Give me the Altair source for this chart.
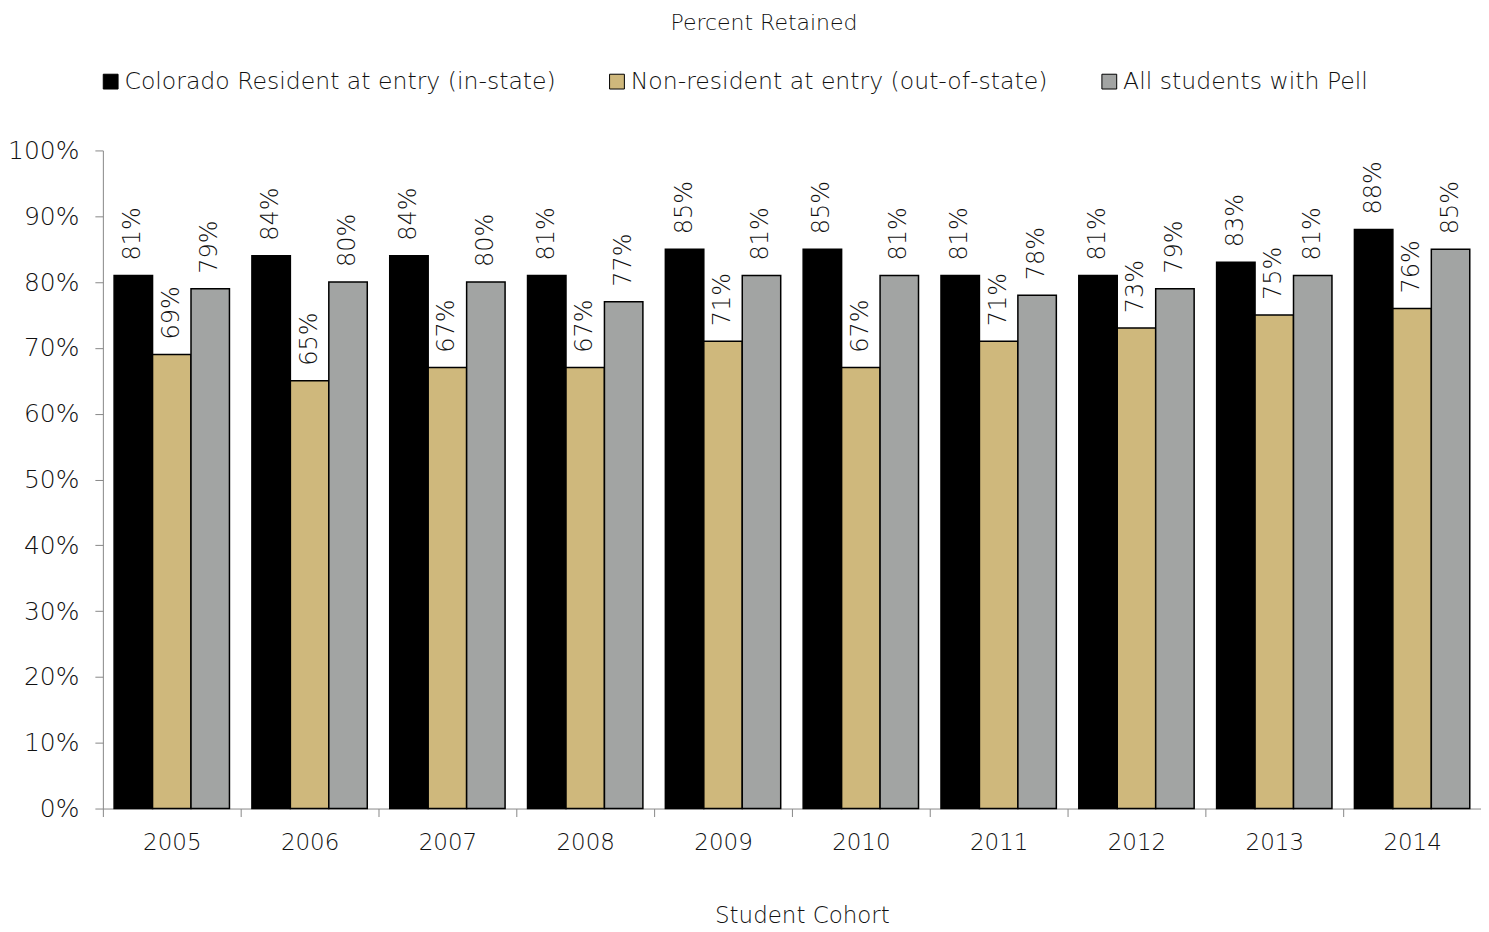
import altair as alt
import pandas as pd

years = ["2005", "2006", "2007", "2008", "2009", "2010", "2011", "2012", "2013", "2014"]
series = ["Colorado Resident at entry (in-state)", "Non-resident at entry (out-of-state)", "All students with Pell"]
in_state = [81, 84, 84, 81, 85, 85, 81, 81, 83, 88]
out_state = [69, 65, 67, 67, 71, 67, 71, 73, 75, 76]
pell = [79, 80, 80, 77, 81, 81, 78, 79, 81, 85]
colors = ["#000000", "#CFB87C", "#A2A4A3"]
chart_title = "Percent Retained"

rows = []
for i, y in enumerate(years):
    for s, vals in zip(series, [in_state, out_state, pell]):
        rows.append({"Cohort": y, "Series": s, "Value": vals[i] / 100.0, "Label": f"{vals[i]}%"})
df = pd.DataFrame(rows)

FONT = "DejaVu Sans"
FW = 200
TXT = "#111111"

x = alt.X("Cohort:N", sort=years,
          scale=alt.Scale(paddingInner=0, paddingOuter=0),
          axis=alt.Axis(title="Student Cohort", labelAngle=0, labelFontSize=23, titleFontSize=23,
                        titleFontWeight=FW, labelFontWeight=FW, titlePadding=50, labelPadding=15,
                        titleX=700, titleAnchor="middle", titleAlign="center",
                        tickBand="extent", tickSize=8, domainColor="#888888", tickColor="#888888",
                        labelColor=TXT, titleColor=TXT, labelFont=FONT, titleFont=FONT))
xo = alt.XOffset("Series:N", sort=series, scale=alt.Scale(paddingInner=0, paddingOuter=0.292))

bars = alt.Chart(df).mark_bar(stroke="black", strokeWidth=1.5).encode(
    x=x, xOffset=xo,
    y=alt.Y("Value:Q", scale=alt.Scale(domain=[0, 1]),
            axis=alt.Axis(format=".0%", values=[i / 10 for i in range(11)], title=None, grid=False,
                          labelFontSize=25, labelFontWeight=FW, labelPadding=16, tickSize=8,
                          domainColor="#888888", tickColor="#888888", labelColor=TXT, labelFont=FONT)),
    color=alt.Color("Series:N", sort=series, scale=alt.Scale(domain=series, range=colors),
                    legend=alt.Legend(title=None, orient="none", direction="horizontal",
                                      legendX=-4, legendY=-81, symbolType="square", symbolSize=220,
                                      symbolStrokeColor="black", symbolStrokeWidth=1,
                                      labelFontSize=23.6, labelFont=FONT, labelFontWeight=FW,
                                      labelColor=TXT, labelLimit=0,
                                      columnPadding=49, labelOffset=2, symbolOpacity=1)),
)

labels = alt.Chart(df).mark_text(angle=270, align="left", baseline="middle", dx=15,
                                  fontSize=24, font=FONT, fontWeight=FW, color=TXT).encode(
    x=alt.X("Cohort:N", sort=years), xOffset=xo, y="Value:Q", text="Label:N")

title_df = pd.DataFrame({"t": [chart_title]})
title = alt.Chart(title_df).mark_text(fontSize=22, font=FONT, fontWeight=FW, color=TXT,
                                       align="center", baseline="middle").encode(
    x=alt.value(662), y=alt.value(-128), text="t:N")

chart = alt.layer(bars, labels, title).properties(
    width=1380, height=659,
    autosize=alt.AutoSizeParams(type="none"),
    padding={"left": 95, "top": 142, "right": 0, "bottom": 120},
).configure_view(stroke=None)

chart.save("out.html", embed_options={"renderer": "svg", "actions": False})
